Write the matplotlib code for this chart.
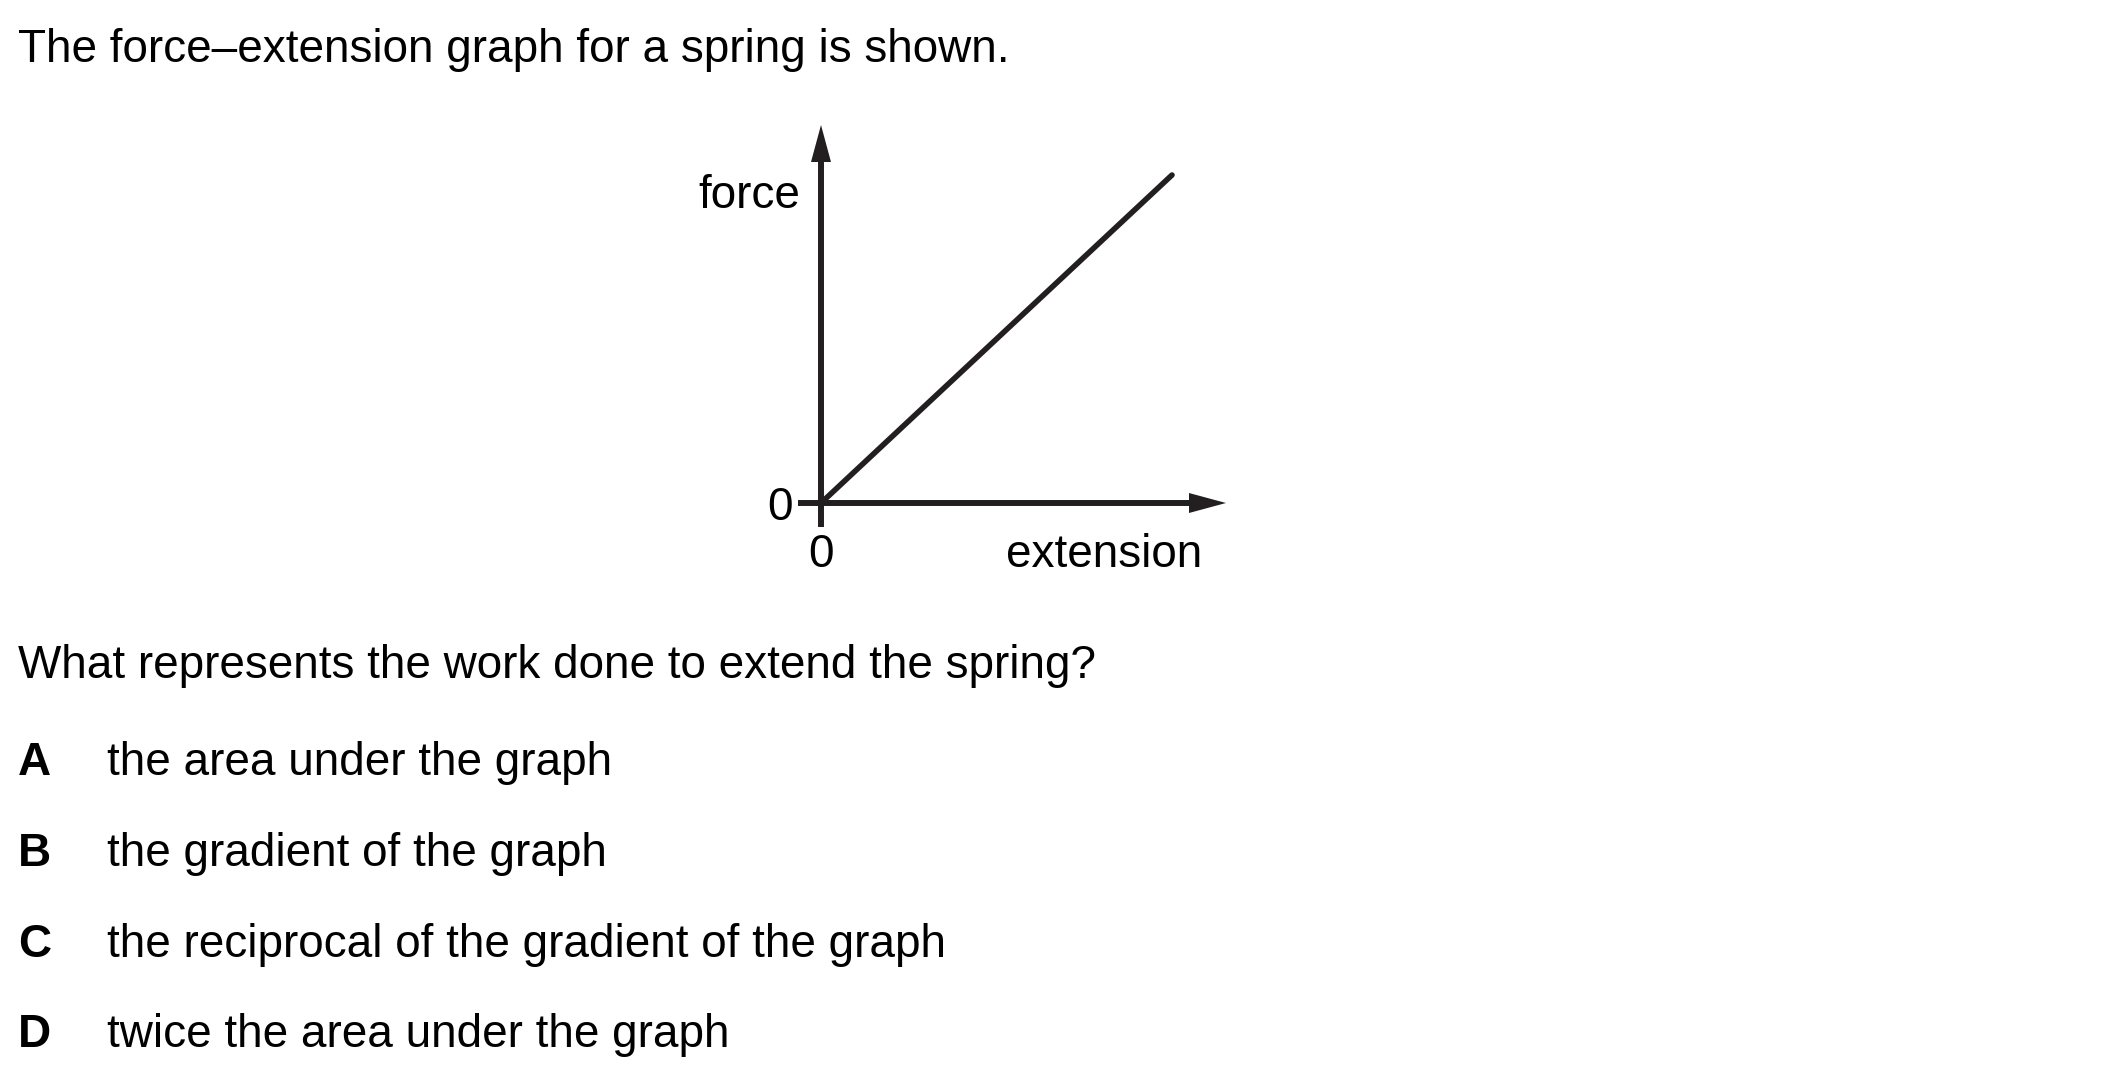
import matplotlib
matplotlib.use("Agg")
import matplotlib.pyplot as plt
from matplotlib.patches import Polygon

# ---- data ----
extension = [0, 1]
force = [0, 1]
x_ticks = [0]
y_ticks = [0]
x_label = "extension"
y_label = "force"
title = "The force\u2013extension graph for a spring is shown."
question = "What represents the work done to extend the spring?"
option_letters = ["A", "B", "C", "D"]
option_texts = ["the area under the graph",
                "the gradient of the graph",
                "the reciprocal of the gradient of the graph",
                "twice the area under the graph"]

# ---- layout (pixels) ----
W, H = 2101, 1087
DPI = 100
ox, oy = 821, 503          # origin pixel (from top)
ux, uy = 351, 328          # pixels per data unit
ink = "#231f20"
FS = 33
plt.rcParams['font.family'] = ['Liberation Sans', 'DejaVu Sans']

fig = plt.figure(figsize=(W / DPI, H / DPI), dpi=DPI)
ax = fig.add_axes([0, 0, 1, 1])
ax.set_xlim(-ox / ux, (W - ox) / ux)
ax.set_ylim(-(H - oy) / uy, oy / uy)
ax.axis("off")

def px(x):  # pixel x -> data
    return (x - ox) / ux

def py(y):  # pixel row from top -> data
    return (oy - y) / uy

# axes lines with arrow heads
lw_axis = 4.3
x_start, x_tip = px(798), px(1226)
y_start, y_tip = py(527), py(125)
hl_x, hw_x = 37 / ux, 10 / uy
hl_y, hw_y = 37 / uy, 10 / ux
ax.plot([x_start, x_tip - hl_x + 0.005], [0, 0], color=ink, lw=lw_axis, solid_capstyle="butt")
ax.add_patch(Polygon([[x_tip - hl_x, hw_x], [x_tip, 0], [x_tip - hl_x, -hw_x]],
                     closed=True, color=ink, lw=0))
ax.plot([0, 0], [y_start, y_tip - hl_y + 0.005], color=ink, lw=lw_axis, solid_capstyle="butt")
ax.add_patch(Polygon([[-hw_y, y_tip - hl_y], [0, y_tip], [hw_y, y_tip - hl_y]],
                     closed=True, color=ink, lw=0))

# data line
ax.plot(extension, force, color=ink, lw=4.0, solid_capstyle="round")

# tick labels
for t in x_ticks:
    ax.text(t, py(567), str(t), fontsize=FS, ha="center", va="baseline", color="black")
for t in y_ticks:
    ax.text(px(793), t, str(t), fontsize=FS, ha="right", va="center_baseline", color="black")

ax.text(px(800), py(208), y_label, fontsize=FS, ha="right", va="baseline", color="black")
ax.text(px(1202), py(567), x_label, fontsize=FS, ha="right", va="baseline", color="black")

# question text
def ftext(x, y, s, **kw):
    fig.text(x / W, 1 - y / H, s, fontsize=FS, va="baseline", color="black", **kw)

ftext(18, 62, title)
ftext(18, 678, question)
rows = [775, 866, 957, 1047]
for r, L, T in zip(rows, option_letters, option_texts):
    ftext(18, r, L, fontweight="bold")
    ftext(107, r, T)

fig.savefig("out.png", dpi=DPI)
